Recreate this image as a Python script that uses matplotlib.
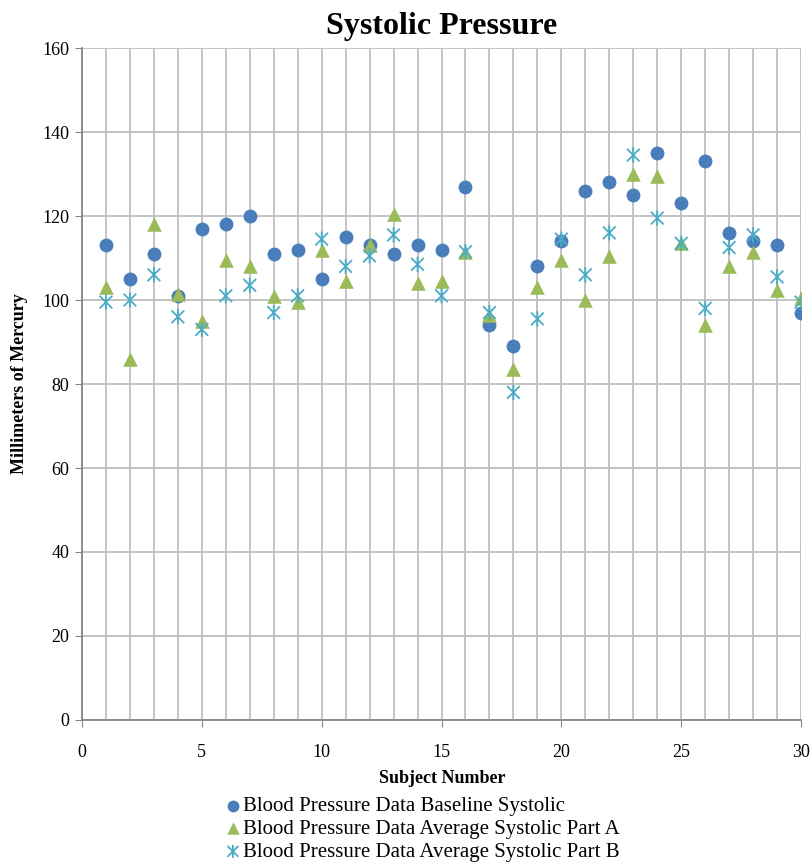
import matplotlib
matplotlib.use("Agg")
import matplotlib.pyplot as plt
from matplotlib.path import Path
import numpy as np

subjects = list(range(1, 31))
baseline = [113, 105, 111, 101, 117, 118, 120, 111, 112, 105, 115, 113, 111, 113, 112,
            127, 94, 89, 108, 114, 126, 128, 125, 135, 123, 133, 116, 114, 113, 97]
part_a = [103, 86, 118, 101.5, 95, 109.5, 108, 101, 99.5, 112, 104.5, 113, 120.5, 104, 104.5,
          111.5, 96.5, 83.5, 103, 109.5, 100, 110.5, 130, 129.5, 113.5, 94, 108, 111.5, 102.5, 100.5]
part_b = [99.5, 100, 106, 96, 93, 101, 103.5, 97, 101, 114.5, 108, 110.5, 115.5, 108.5, 101,
          111.5, 97, 78, 95.5, 114.5, 106, 116, 134.5, 119.5, 113.5, 98, 112.5, 115.5, 105.5, 99.5]
labels = ["Blood Pressure Data Baseline Systolic",
          "Blood Pressure Data Average Systolic Part A",
          "Blood Pressure Data Average Systolic Part B"]

plt.rcParams['font.family'] = ['Liberation Serif', 'DejaVu Serif']

star = Path([(-1, -1), (1, 1), (-1, 1), (1, -1), (0, -1.2), (0, 1.2)],
            [Path.MOVETO, Path.LINETO, Path.MOVETO, Path.LINETO, Path.MOVETO, Path.LINETO])

fig = plt.figure(figsize=(8.11, 8.65), dpi=100)
ax = fig.add_axes([82/811, 1 - 720/865, (801-82)/811, (720-48)/865])

grid_c = '#BEBEBE'
ax.set_xlim(0, 30)
ax.set_ylim(0, 160)
ax.set_xticks(np.arange(0, 31, 5))
ax.set_xticks(np.arange(0, 31, 1), minor=True)
ax.set_yticks(np.arange(0, 161, 20))
ax.grid(True, which='both', axis='x', color=grid_c, lw=1.3)
ax.grid(True, which='major', axis='y', color=grid_c, lw=1.3)
ax.set_axisbelow(True)
for s in ['top', 'right']:
    ax.spines[s].set_visible(False)
for s in ['left', 'bottom']:
    ax.spines[s].set_color('#868686')
    ax.spines[s].set_linewidth(1.3)
ax.tick_params(axis='both', which='major', direction='out', length=5, color='#868686',
               labelsize=13, pad=4)
ax.tick_params(axis='x', which='major', pad=12)
ax.tick_params(axis='x', which='minor', length=0)

ax.scatter(subjects, baseline, s=100, marker='o', color='#4A7EBB', label=labels[0], zorder=3, linewidths=0)
ax.scatter(subjects, part_a, s=110, marker='^', color='#9BBB59', label=labels[1], zorder=4, linewidths=0)
ax.scatter(subjects, part_b, s=120, marker=star, facecolor='none', edgecolor='#4BACC6',
           linewidths=1.3, label=labels[2], zorder=5)

ax.set_title("Systolic Pressure", fontsize=23, fontweight='bold', pad=10)
ax.set_xlabel("Subject Number", fontsize=13, fontweight='bold')
ax.set_ylabel("Millimeters of Mercury", fontsize=13, fontweight='bold')
ax.xaxis.set_label_coords((442-82)/719, -(770-720)/672)
ax.yaxis.set_label_coords(-(82-28)/719, 0.5)

leg = fig.legend(loc='upper left', bbox_to_anchor=(210/811, 1 - 786/865), frameon=False,
                 fontsize=15, handletextpad=-0.1, labelspacing=0.16, borderpad=0,
                 handlelength=1.2, markerscale=0.85)
fig.savefig("out.png", dpi=100)
